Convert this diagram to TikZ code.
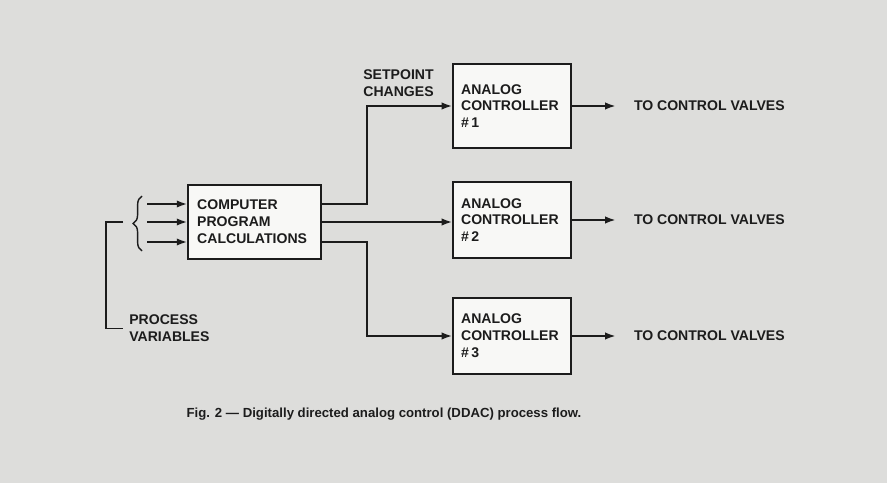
\documentclass[tikz,border=0pt]{standalone}
\usepackage{fontspec}
\setmainfont{Liberation Sans}
\usetikzlibrary{arrows.meta,positioning,decorations.pathreplacing}
\definecolor{papergray}{RGB}{221,221,219}
\definecolor{boxwhite}{RGB}{248,248,246}
\definecolor{inkblack}{RGB}{28,28,28}

\begin{document}
\begin{tikzpicture}[
  x=0.02cm, y=-0.02cm,
  every node/.style={font=\bfseries\fontsize{8}{9.6}\selectfont, text=inkblack},
  block/.style={draw=inkblack, line width=1.1pt, fill=boxwhite, align=left,
                inner ysep=0pt},
  compbox/.style={block, inner xsep=5.1pt, text width=65.2pt, minimum height=1.48cm},
  ctrlbox/.style={block, inner xsep=4.5pt, text width=57.9pt},
  lbl/.style={align=left, inner sep=0pt},
  valve/.style={inner xsep=10.2pt, inner ysep=0pt},
  flow/.style={draw=inkblack, line width=1.1pt, -{Latex[length=6pt,width=4.2pt]}},
  wire/.style={draw=inkblack, line width=1.1pt}
]
% paper
\fill[papergray] (0,0) rectangle (887,483);

\node[compbox] (comp) at (254.5,222) {COMPUTER\\PROGRAM\\CALCULATIONS};
\node[ctrlbox, minimum height=1.68cm] (ctrl1) at (512,106) {ANALOG\\CONTROLLER\\\#\,1};
\node[ctrlbox, minimum height=1.52cm] (ctrl2) at (512,220) {ANALOG\\CONTROLLER\\\#\,2};
\node[ctrlbox, minimum height=1.52cm] (ctrl3) at (512,336) {ANALOG\\CONTROLLER\\\#\,3};

\node[valve, right=0.88cm of ctrl1] (valve1) {TO CONTROL VALVES};
\node[valve, right=0.88cm of ctrl2] (valve2) {TO CONTROL VALVES};
\node[valve, right=0.88cm of ctrl3] (valve3) {TO CONTROL VALVES};

\node[lbl, anchor=west] (setpt) at (363,83) {SETPOINT\\CHANGES};
\node[lbl, anchor=west, inner xsep=3.4pt] (procvar) at (123,328.5) {PROCESS\\VARIABLES};

% inputs
\foreach \dy in {0.36,0,-0.4}
  \draw[flow] ([yshift=\dy cm, xshift=-0.8cm]comp.west) -- ([yshift=\dy cm]comp.west);
\draw[wire, line width=0.8pt, decorate, decoration={brace, amplitude=5pt}]
  (142,251) -- (142,196);
\coordinate (pv) at (123,222);
\draw[wire] (pv) -- ++(-17,0) |- (procvar.west);

% outputs
\draw[flow] ([yshift=0.36cm]comp.east) -- ++(45,0) |- (ctrl1.west);
\draw[flow] (comp.east) -- (comp.east -| ctrl2.west);
\draw[flow] ([yshift=-0.4cm]comp.east) -- ++(45,0) |- (ctrl3.west);

\foreach \i in {1,2,3}
  \draw[flow] (ctrl\i.east) -- (valve\i.west);

\node[font=\bfseries\fontsize{7.5}{9}\selectfont] (caption) at (384,414)
  {Fig. 2 — Digitally directed analog control (DDAC) process flow.};
\end{tikzpicture}
\end{document}
